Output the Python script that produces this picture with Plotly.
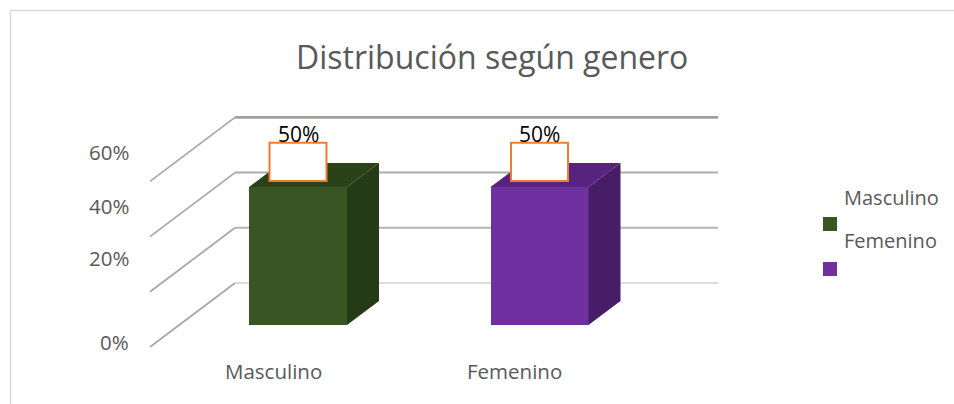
import plotly.graph_objects as go

# ---------------- data ----------------
categories = ["Masculino", "Femenino"]
values = [0.5, 0.5]
value_labels = ["50%", "50%"]
tick_values = [0.0, 0.2, 0.4, 0.6]
tick_labels = ["0%", "20%", "40%", "60%"]
title_text = "Distribución según genero"

# ---------------- style / geometry ----------------
W, H = 954, 404
FONT = "Open Sans"
GREY_TXT = "#595959"
front_colors = ["#375623", "#7030a0"]
side_colors = ["#253a16", "#481d68"]
top_colors = ["#2b4219", "#57237e"]

# pixel geometry of the axis mapping (layout)
PX0, SX = 298.0, 241.5   # pixel of category 0, pixels per category step
PY0, SY = 325.0, 276.0   # pixel of value 0 (bar front), pixels per unit value

def px2x(px):
    return (px - PX0) / SX

def py2y(py):
    return (PY0 - py) / SY

bar_width = 98 / SX
depth_dx = 32 / SX
depth_dy = 24 / SY
wall_left = px2x(235)
wall_right = px2x(718)
wall_dy = 42 / SY
front_left = px2x(150)
front_dy = -22 / SY
tick_label_y_px = {0.0: 341.5, 0.2: 258, 0.4: 206, 0.6: 151.5}

fig = go.Figure()

xs = list(range(len(categories)))

# front faces
fig.add_trace(go.Bar(
    x=xs, y=values, width=bar_width,
    marker=dict(color=front_colors, line=dict(width=0)),
    showlegend=False, hoverinfo="skip",
))

# side and top faces
for i, v in zip(xs, values):
    r = i + bar_width / 2
    l = i - bar_width / 2
    fig.add_trace(go.Scatter(
        x=[r, r + depth_dx, r + depth_dx, r, r],
        y=[0, depth_dy, v + depth_dy, v, 0],
        fill="toself", fillcolor=side_colors[i], mode="lines",
        line=dict(width=0, color=side_colors[i]),
        showlegend=False, hoverinfo="skip",
    ))
    fig.add_trace(go.Scatter(
        x=[l, l + depth_dx, r + depth_dx, r, l],
        y=[v, v + depth_dy, v + depth_dy, v, v],
        fill="toself", fillcolor=top_colors[i], mode="lines",
        line=dict(width=0, color=top_colors[i]),
        showlegend=False, hoverinfo="skip",
    ))

shapes = []
# gridlines: back wall + floor/side diagonals
grid_styles = {0.0: ("#d0d0d0", 1.6), 0.2: ("#b4b4b4", 2), 0.4: ("#acacac", 2), 0.6: ("#a0a0a0", 2.6)}
for tv in tick_values:
    c, w = grid_styles[tv]
    shapes.append(dict(type="line", xref="x", yref="y", layer="below",
                       x0=wall_left, x1=wall_right, y0=tv + wall_dy, y1=tv + wall_dy,
                       line=dict(color=c, width=w)))
    shapes.append(dict(type="line", xref="x", yref="y", layer="below",
                       x0=front_left, x1=wall_left, y0=tv + front_dy, y1=tv + wall_dy,
                       line=dict(color="#a8a8a8", width=1.8)))

# data label boxes
for i, v in zip(xs, values):
    shapes.append(dict(type="rect", xref="x", yref="y", layer="above",
                       x0=i - 28.5 / SX, x1=i + 28.5 / SX,
                       y0=v + 0.022, y1=v + 0.16,
                       fillcolor="white", line=dict(color="#ed7d31", width=2)))

# outer chart border (top and left visible)
shapes.append(dict(type="line", xref="paper", yref="paper",
                   x0=10 / W, x1=1.0, y0=1 - 10.5 / H, y1=1 - 10.5 / H,
                   line=dict(color="#d9d9d9", width=1.5)))
shapes.append(dict(type="line", xref="paper", yref="paper",
                   x0=10.5 / W, x1=10.5 / W, y0=1 - 10 / H, y1=0,
                   line=dict(color="#d9d9d9", width=1.5)))

# legend squares
for k, c in enumerate(front_colors):
    top = 217 + k * 45
    shapes.append(dict(type="rect", xref="paper", yref="paper",
                       x0=823 / W, x1=837 / W, y0=1 - (top + 14) / H, y1=1 - top / H,
                       fillcolor=c, line=dict(width=0)))

annotations = []
annotations.append(dict(text=title_text, xref="paper", yref="paper",
                        x=491.5 / W, y=1 - 56 / H, xanchor="center", yanchor="middle",
                        showarrow=False, font=dict(family=FONT, size=32, color=GREY_TXT)))
for i, v, lab in zip(xs, values, value_labels):
    annotations.append(dict(text=lab, xref="x", yref="y", x=i, y=v + 0.192,
                            xanchor="center", yanchor="middle", showarrow=False,
                            font=dict(family=FONT, size=21, color="black")))
for i, cat in zip(xs, categories):
    annotations.append(dict(text=cat, xref="x", yref="y", x=i - 25 / SX, y=py2y(371),
                            xanchor="center", yanchor="middle", showarrow=False,
                            font=dict(family=FONT, size=20.5, color=GREY_TXT)))
for tv, tl in zip(tick_values, tick_labels):
    annotations.append(dict(text=tl, xref="x", yref="y", x=px2x(131), y=py2y(tick_label_y_px[tv]),
                            xanchor="right", yanchor="middle", showarrow=False,
                            font=dict(family=FONT, size=20.5, color=GREY_TXT)))
for k, cat in enumerate(categories):
    annotations.append(dict(text=cat, xref="paper", yref="paper",
                            x=842 / W, y=1 - (197 + k * 43.5) / H, xanchor="left", yanchor="middle",
                            showarrow=False, font=dict(family=FONT, size=20, color=GREY_TXT)))

fig.update_layout(
    width=W, height=H,
    margin=dict(l=0, r=0, t=0, b=0, pad=0),
    paper_bgcolor="white", plot_bgcolor="white",
    xaxis=dict(range=[px2x(0), px2x(W)], visible=False, fixedrange=True),
    yaxis=dict(range=[py2y(H), py2y(0)], visible=False, fixedrange=True),
    shapes=shapes, annotations=annotations,
    showlegend=False, bargap=0,
)

fig.write_html("out.html", config={"displayModeBar": False},
               post_script="document.body.style.margin='0';document.body.style.overflow='hidden';")
